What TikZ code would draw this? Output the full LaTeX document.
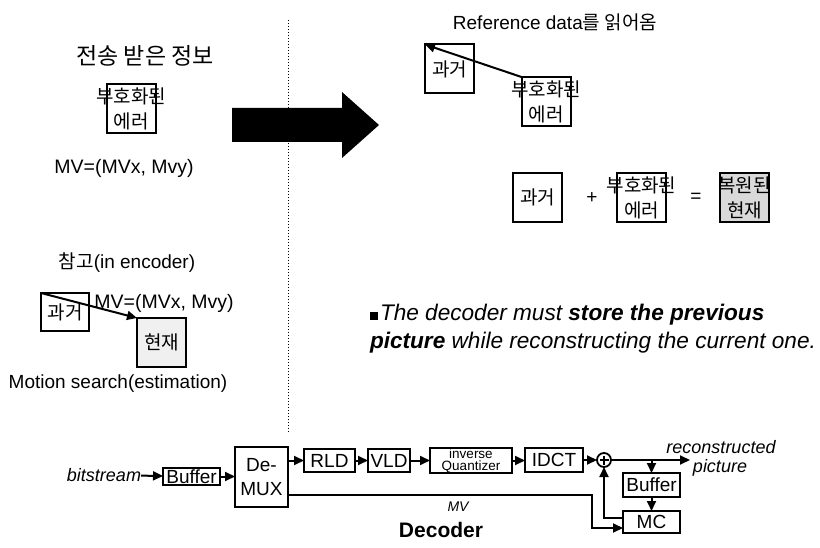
\documentclass[tikz,border=0pt]{standalone}
\usepackage{fontspec}
\setmainfont{Liberation Sans}
\newfontfamily\kr{Noto Sans CJK KR}
\usetikzlibrary{calc,arrows.meta}

\begin{document}
\begin{tikzpicture}[x=1pt,y=-1pt,
  every node/.style={inner sep=0pt, outer sep=0pt},
  lbl/.style={font=\fontsize{19}{22}\selectfont},
  krbox/.style={draw, line width=2pt, minimum width=49pt, minimum height=49pt,
    align=center, font=\kr\fontsize{19}{25}\selectfont},
  blk/.style={draw, line width=2pt, align=center, font=\fontsize{19}{20}\selectfont},
  arr/.style={line width=2pt, -{Triangle[length=10pt,width=9pt]}}]
\useasboundingbox (0,0) rectangle (820,548);

% ---- left column: transmitted information ----
\node[font=\kr\fontsize{23}{26}\selectfont] (title) at (145,56) {전송 받은 정보};
\node[krbox] (errA) at (131,109) {\makebox[0pt]{부호화된}\\\makebox[0pt]{에러}};
\node[font=\fontsize{19.5}{22}\selectfont] (mvA) at (124,168) {MV=(MVx, Mvy)};

\node[lbl] (ref) at (127,263) {{\kr 참고}(in encoder)};
\node[krbox, minimum width=48pt, minimum height=38pt] (pastA) at (65,312) {과거};
\node[krbox, fill=gray!12] (curA) at (161.5,342.5) {현재};
\draw[arr] (pastA.north west) -- (curA.north west);
\node[font=\fontsize{19.5}{22}\selectfont] (mvB) at (164,303) {MV=(MVx, Mvy)};
\node[lbl] (ms) at (118,384) {Motion search(estimation)};

% ---- divider and big arrow ----
\coordinate (divT) at (288,20);
\coordinate (divB) at (288,432);
\draw[dotted, line width=1pt] (divT) -- (divB);
\fill (232,108) -- (342,108) -- (342,92) -- (379,125) -- (342,158) -- (342,142) -- (232,142) -- cycle;

% ---- right column: decoding ----
\node[lbl] (rd) at (555,22) {Reference data{\kr 를 읽어옴}};
\node[krbox] (pastB) at (449.5,69) {과거};
\node[krbox] (errB) at (546,101.5) {\makebox[0pt]{부호화된}\\\makebox[0pt]{에러}};
\draw[arr] (errB.north west) -- (pastB.north west);

\node[krbox] (pastC) at (537.5,197.5) {과거};
\node[lbl] (plus) at (592,198) {+};
\node[krbox] (errC) at (641.5,197.5) {\makebox[0pt]{부호화된}\\\makebox[0pt]{에러}};
\node[lbl] (eq) at (696,198) {=};
\node[krbox, fill=gray!30] (curC) at (744.5,197.5) {\makebox[0pt]{복원된}\\\makebox[0pt]{현재}};

\node[anchor=west, align=left, font=\fontsize{22.6}{28}\selectfont] (note) at (370,329)
  {\rule[1pt]{8pt}{8pt}\hspace{2pt}\textit{The decoder must \textbf{store the previous}}\\
   \textit{\textbf{picture} while reconstructing the current one.}};

% ---- decoder block diagram ----
\node[anchor=east, font=\itshape\fontsize{18}{20}\selectfont] (bits) at (141,475) {bitstream};
\node[blk, minimum width=57pt, minimum height=17pt] (buf1) at (191.5,476.5) {Buffer};
\node[blk, minimum width=53pt, minimum height=60pt, font=\fontsize{19}{24}\selectfont] (demux) at (261.5,477) {De-\\MUX};
\node[blk, minimum width=51pt, minimum height=23pt] (rld) at (329.5,460.5) {RLD};
\node[blk, minimum width=42pt, minimum height=23pt] (vld) at (389,460.5) {VLD};
\node[blk, minimum width=82pt, minimum height=25pt, font=\fontsize{13.5}{12}\selectfont] (iq) at (471,460.5) {inverse\\Quantizer};
\node[blk, minimum width=58pt, minimum height=24pt] (idct) at (554,460) {IDCT};
\node[draw, circle, line width=1.8pt, minimum size=14pt] (sum) at (604,460) {};
\draw[line width=1.4pt] ($(sum.north)+(0,2.5)$) -- ($(sum.south)+(0,-2.5)$)
  ($(sum.west)+(2.5,0)$) -- ($(sum.east)+(-2.5,0)$);
\node[blk, minimum width=57pt, minimum height=24pt] (buf2) at (651.5,485) {Buffer};
\node[blk, minimum width=57pt, minimum height=22pt] (mc) at (651.5,522) {MC};
\coordinate (out) at (690,460);
\node[font=\itshape\fontsize{18}{20}\selectfont] (rec) at (721,447) {reconstructed};
\node[font=\itshape\fontsize{18}{20}\selectfont] (pic) at (720,468) {picture};
\node[font=\itshape\fontsize{14}{16}\selectfont] (mvl) at (458,507) {MV};
\node[font=\bfseries\fontsize{21}{24}\selectfont] (dec) at (441,530) {Decoder};

\draw[arr] (bits) -- (buf1);
\draw[arr] (buf1.east) -- (buf1.east -| demux.west);
\draw[arr] (demux.east |- rld.west) -- (rld.west);
\draw[arr] (rld) -- (vld);
\draw[arr] (vld) -- (iq);
\draw[arr] (iq.east) -- (iq.east -| idct.west);
\draw[arr] (idct) -- (sum);
\draw[arr] (sum) -- (out);
\draw[arr] (buf2.north |- sum) -- (buf2.north);
\draw[arr] (buf2) -- (mc);
\draw[arr] ($(mc.west)+(0,-4)$) -| (sum.south);
\coordinate (mvs) at ($(demux.east)+(0,18)$);
\coordinate (mvturn) at (592,495);
\draw[arr] (mvs) -- (mvturn) |- ($(mc.west)+(0,6)$);
\end{tikzpicture}
\end{document}
